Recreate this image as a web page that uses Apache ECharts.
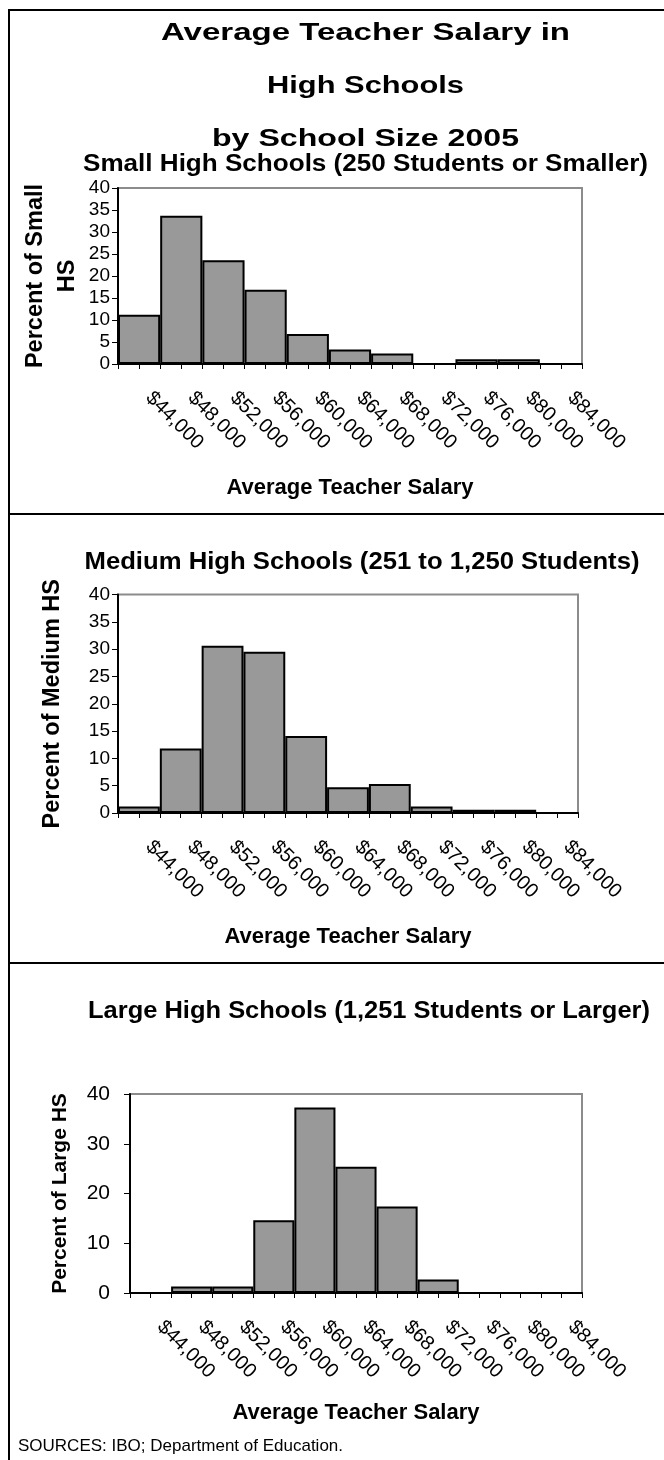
<!DOCTYPE html>
<html>
<head>
<meta charset="utf-8">
<script src="https://cdn.jsdelivr.net/npm/echarts@6.0.0/dist/echarts.min.js"></script>
<style>
  html, body { margin: 0; padding: 0; background: #fff; }
  #chart { width: 664px; height: 1460px; }
</style>
</head>
<body>
<div id="chart"></div>
<script>
// salary bins (category labels)
const salaryBins = ['$44,000', '$48,000', '$52,000', '$56,000', '$60,000', '$64,000',
  '$68,000', '$72,000', '$76,000', '$80,000', '$84,000'];
// percent of high schools in each salary bin
const smallPct = [11.2, 33.7, 23.6, 16.9, 6.8, 3.3, 2.4, 0, 1.1, 1.1, 0];
const mediumPct = [1.2, 11.8, 30.6, 29.5, 14.1, 4.7, 5.3, 1.2, 0.6, 0.6, 0];
const largePct = [0, 1.3, 1.3, 14.6, 37.3, 25.4, 17.4, 2.7, 0, 0, 0];
// half-bin slots, only used to draw the minor tick marks
const halfBins = salaryBins.flatMap(b => [b + ' lo', b + ' hi']);

const FONT = '"Liberation Sans", Arial, sans-serif';
const BAR_FILL = '#999999';
const FRAME_GRAY = '#8c8c8c';

const measureCtx = document.createElement('canvas').getContext('2d');
// horizontal stretch so a bold title fills the width it takes in the scan
function fitScale(text, size, width) {
  measureCtx.font = 'bold ' + size + 'px ' + FONT;
  return width / measureCtx.measureText(text).width;
}

function titleText(text, cx, cy, width, size) {
  return {
    type: 'text',
    x: cx,
    y: cy,
    scaleX: fitScale(text, size, width),
    style: {
      text: text,
      fill: '#000',
      font: 'bold ' + size + 'px ' + FONT,
      textAlign: 'center',
      align: 'center',
      textVerticalAlign: 'middle',
      verticalAlign: 'middle',
    },
  };
}

function hLine(y) {
  return { type: 'line', shape: { x1: 9, y1: y, x2: 664, y2: y }, style: { stroke: '#000', lineWidth: 2 } };
}

// one histogram panel
const panels = [
  { values: smallPct, grid: { left: 118, top: 188, width: 464, height: 176 }, step: 5,
    yName: 'Percent of Small\nHS', yNameGap: 34, yNameSize: 23.5, yLabelSize: 19, yLabelMargin: 8,
    xNameGap: 113 },
  { values: mediumPct, grid: { left: 118, top: 594.5, width: 460, height: 218.5 }, step: 5,
    yName: 'Percent of Medium HS', yNameGap: 49, yNameSize: 23.5, yLabelSize: 19, yLabelMargin: 8,
    xNameGap: 113 },
  { values: largePct, grid: { left: 130, top: 1094, width: 452, height: 199 }, step: 10,
    yName: 'Percent of Large HS', yNameGap: 54, yNameSize: 21, yLabelSize: 21, yLabelMargin: 20,
    xNameGap: 109 },
];

const grid = [], xAxis = [], yAxis = [], series = [];
panels.forEach((p, i) => {
  grid.push(Object.assign({ show: true, borderColor: FRAME_GRAY, borderWidth: 2, backgroundColor: 'transparent' }, p.grid));
  // bar / label axis
  xAxis.push({
    type: 'category',
    gridIndex: i,
    data: salaryBins,
    axisLine: { show: true, lineStyle: { color: '#000', width: 2 } },
    axisTick: { show: false },
    axisLabel: {
      rotate: -45, margin: 21, padding: [0, 0, 0, 14],
      color: '#000', fontFamily: FONT, fontSize: 20, interval: 0,
    },
    name: 'Average Teacher Salary',
    nameLocation: 'middle',
    nameGap: p.xNameGap,
    nameMoveOverlap: false,
    nameTextStyle: { color: '#000', fontFamily: FONT, fontWeight: 'bold', fontSize: 22 },
  });
  // minor tick axis
  xAxis.push({
    type: 'category',
    gridIndex: i,
    position: 'bottom',
    data: halfBins,
    axisLine: { show: false },
    axisTick: { show: true, interval: 0, length: 5, lineStyle: { color: '#000', width: 1 } },
    axisLabel: { show: false },
  });
  yAxis.push({
    type: 'value',
    gridIndex: i,
    min: 0,
    max: 40,
    interval: p.step,
    axisLine: { show: true, lineStyle: { color: '#000', width: 2 } },
    axisTick: { show: true, length: 6, lineStyle: { color: '#000' } },
    splitLine: { show: false },
    axisLabel: { color: '#000', fontFamily: FONT, fontSize: p.yLabelSize, margin: p.yLabelMargin },
    name: p.yName,
    nameLocation: 'middle',
    nameRotate: 90,
    nameGap: p.yNameGap,
    nameMoveOverlap: false,
    nameTextStyle: { color: '#000', fontFamily: FONT, fontWeight: 'bold', fontSize: p.yNameSize, lineHeight: 32 },
  });
  series.push({
    type: 'bar',
    xAxisIndex: 2 * i,
    yAxisIndex: i,
    data: p.values,
    barCategoryGap: '0%',
    silent: true,
    itemStyle: { color: BAR_FILL, borderColor: '#000', borderWidth: 2 },
  });
});

const option = {
  animation: false,
  backgroundColor: '#fff',
  grid: grid,
  xAxis: xAxis,
  yAxis: yAxis,
  series: series,
  graphic: [
    // page frame and panel separators
    { type: 'line', shape: { x1: 9, y1: 9, x2: 9, y2: 1460 }, style: { stroke: '#000', lineWidth: 2 } },
    hLine(10),
    hLine(514),
    hLine(963),
    titleText('Average Teacher Salary in', 365.5, 33, 409, 24),
    titleText('High Schools', 365.5, 86.5, 197, 24),
    titleText('by School Size 2005', 365.5, 139, 307, 24),
    titleText('Small High Schools (250 Students or Smaller)', 365.5, 165, 565, 23),
    titleText('Medium High Schools (251 to 1,250 Students)', 362, 563, 555, 23),
    titleText('Large High Schools (1,251 Students or Larger)', 369, 1012, 562, 23),
    {
      type: 'text',
      x: 18,
      y: 1446,
      style: {
        text: 'SOURCES: IBO; Department of Education.',
        fill: '#000',
        font: '17px ' + FONT,
        textVerticalAlign: 'middle',
        verticalAlign: 'middle',
      },
    },
  ],
};

const chart = echarts.init(document.getElementById('chart'), null, { renderer: 'canvas' });
chart.setOption(option);
</script>
</body>
</html>
